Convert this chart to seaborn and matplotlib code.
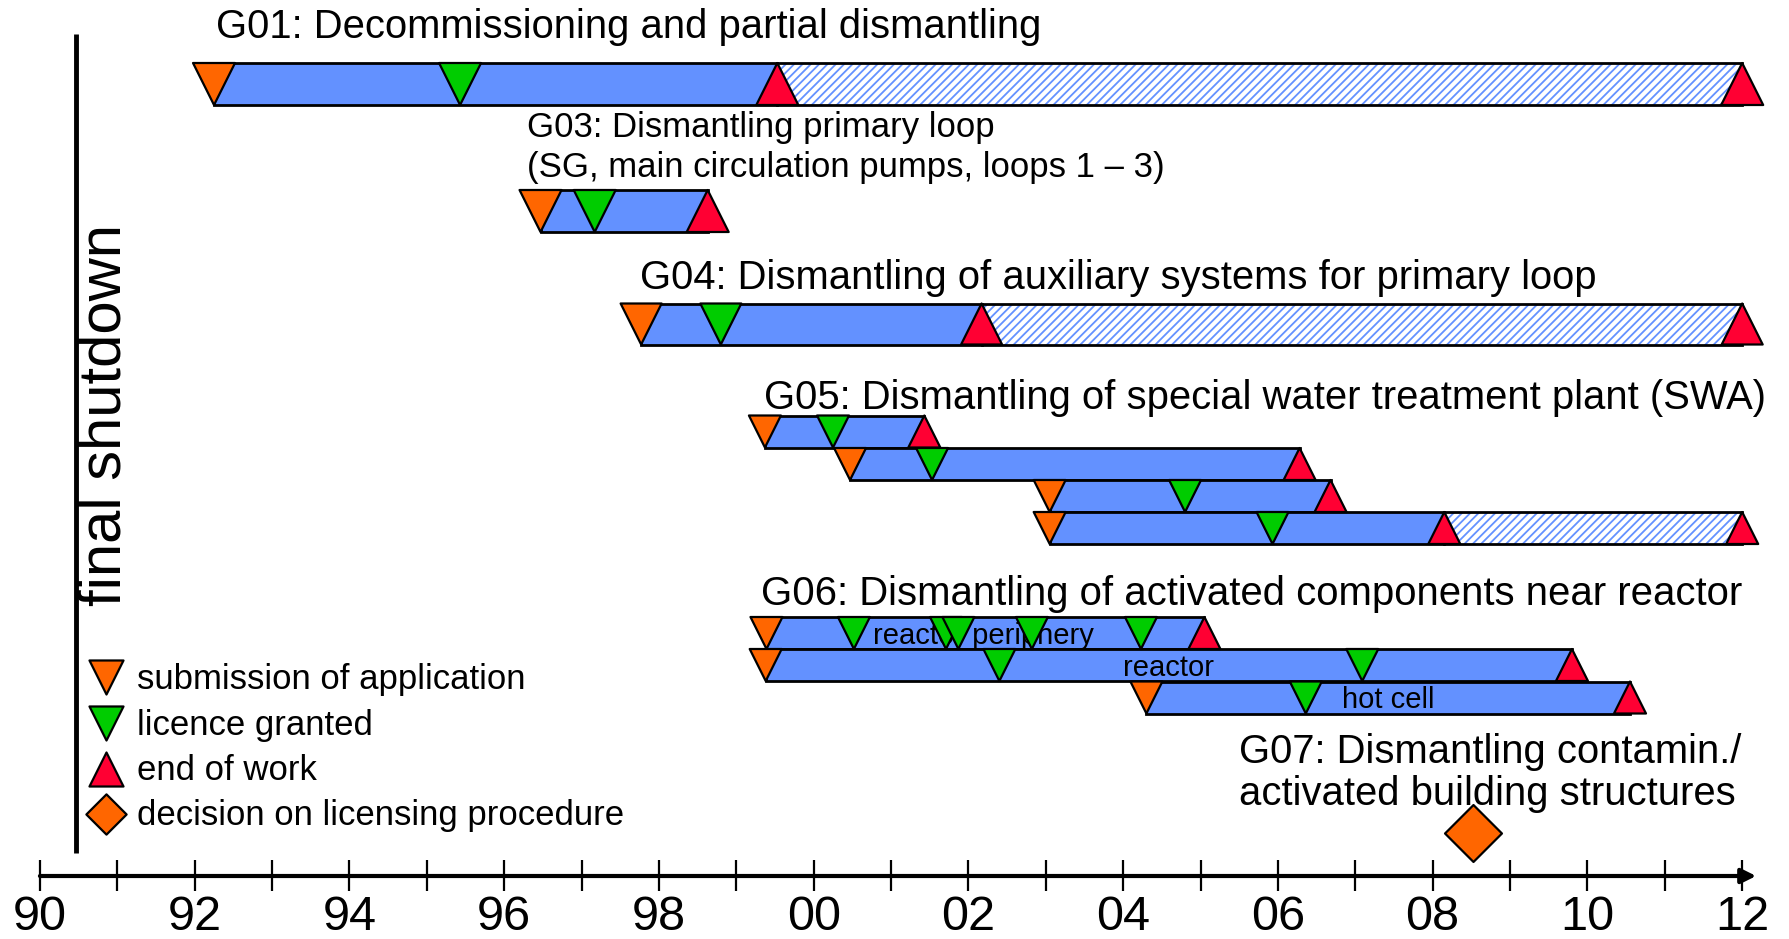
import numpy as np
import pandas as pd
import matplotlib.pyplot as plt
import seaborn as sns

# ---------- data (calendar years) ----------
row_names = ["G01", "G03", "G04", "G05a", "G05b", "G05c", "G05d", "G06a", "G06b", "G06c"]
submission = [1992.25, 1996.47, 1997.77, 1999.37, 2000.47, 2003.05, 2003.05, 1999.39, 1999.38, 2004.30]
licence = [[1995.43], [1997.17], [1998.80], [2000.25], [2001.53], [2004.80], [2005.93],
           [2000.52, 2001.71, 2001.87, 2002.82, 2004.23], [2002.40, 2007.09], [2006.36]]
end_of_work = [1999.53, 1998.63, 2002.17, 2001.43, 2006.28, 2006.68, 2008.15, 2005.05, 2009.80, 2010.55]
planned_end = [2012, None, 2012, None, None, None, 2012, None, None, None]
bar_labels = ["", "", "", "", "", "", "", "reactor periphery", "reactor", "hot cell"]
bar_label_x = [None] * 7 + [2002.19, 2004.59, 2007.42]
decision_year = 2008.52
final_shutdown = 1990.46
years = list(range(1990, 2013))

title_lines = ["G01: Decommissioning and partial dismantling",
               "G03: Dismantling primary loop",
               "(SG, main circulation pumps, loops 1 \u2013 3)",
               "G04: Dismantling of auxiliary systems for primary loop",
               "G05: Dismantling of special water treatment plant (SWA)",
               "G06: Dismantling of activated components near reactor",
               "G07: Dismantling contamin./",
               "activated building structures"]
legend_labels = ["submission of application", "licence granted", "end of work",
                 "decision on licensing procedure"]

# ---------- layout (pixels from top) ----------
row_y = [84, 211, 324, 431.5, 464, 496, 528, 633, 665, 697.5]
row_h = [42, 42, 41, 32, 32, 32, 32, 32, 32, 32]
title_x = [1992.28, 1996.30, 1996.30, 1997.75, 1999.36, 1999.32, 2005.50, 2005.50]
title_y = [27, 127, 168, 278, 398, 594, 752, 794]
title_fs = [28.8, 25, 25, 28.8, 28.8, 28.9, 28.8, 28.8]

BLUE = "#6391FF"
ORANGE = "#FF6600"
GREEN = "#00CC00"
RED = "#FF0033"

sns.set_theme(style="white")
plt.rcParams["font.family"] = ["Liberation Sans", "DejaVu Sans"]
plt.rcParams["text.color"] = "black"
plt.rcParams["hatch.linewidth"] = 1.3

fig = plt.figure(figsize=(17.89, 9.39), dpi=100)
ax = fig.add_axes([0, 0, 1, 1])

# ---------- bars ----------
for i in range(len(row_names)):
    y, h = row_y[i], row_h[i]
    ax.barh(y, end_of_work[i] - submission[i], left=submission[i], height=h,
            color=BLUE, edgecolor="black", linewidth=2, zorder=2)
    if planned_end[i] is not None:
        ax.barh(y, planned_end[i] - end_of_work[i], left=end_of_work[i], height=h,
                color="white", edgecolor=BLUE, hatch="////", linewidth=0, zorder=2)
        ax.barh(y, planned_end[i] - end_of_work[i], left=end_of_work[i], height=h,
                fill=False, edgecolor="black", linewidth=2, zorder=2)
    if bar_labels[i]:
        ax.text(bar_label_x[i], y + 3, bar_labels[i], ha="center", va="center",
                fontsize=21, zorder=3)

# ---------- milestones ----------
recs = []
for i in range(len(row_names)):
    s = (row_h[i] * 0.72) ** 2
    recs.append(dict(year=submission[i], y=row_y[i], kind="sub", s=s))
    for lic in licence[i]:
        recs.append(dict(year=lic, y=row_y[i], kind="lic", s=s))
    recs.append(dict(year=end_of_work[i], y=row_y[i], kind="end", s=s))
    if planned_end[i] is not None:
        recs.append(dict(year=planned_end[i], y=row_y[i], kind="end", s=s))
ms = pd.DataFrame(recs)

specs = {"sub": ("v", ORANGE), "lic": ("v", GREEN), "end": ("^", RED)}
for kind, (mk, col) in specs.items():
    sub = ms[ms["kind"] == kind]
    sns.scatterplot(data=sub, x="year", y="y", marker=mk, color=col, s=sub["s"].values,
                    edgecolor="black", linewidth=1.6, zorder=4, legend=False, ax=ax)

# decision diamond
sns.scatterplot(x=[decision_year], y=[833], marker="D", color=ORANGE, s=29 ** 2,
                edgecolor="black", linewidth=1.6, zorder=4, legend=False, ax=ax)

# ---------- titles ----------
for txt, tx, ty, fs in zip(title_lines, title_x, title_y, title_fs):
    ax.text(tx, ty, txt, ha="left", va="center", fontsize=fs, zorder=5)

# ---------- final shutdown ----------
ax.plot([final_shutdown, final_shutdown], [34, 853], color="black", lw=3.5,
        solid_capstyle="butt", zorder=3)
ax.text(final_shutdown + 0.38, 415, "final shutdown", rotation=90, ha="center",
        va="center", fontsize=43)

# ---------- legend ----------
leg_y = [677, 723, 769, 814]
leg_marks = [("v", ORANGE, 600), ("v", GREEN, 600), ("^", RED, 600), ("D", ORANGE, 420)]
for ly, (mk, col, s), lab in zip(leg_y, leg_marks, legend_labels):
    ax.scatter([1990.86], [ly], marker=mk, color=col, s=s, edgecolor="black",
               linewidth=1.6, zorder=4)
    ax.text(1991.25, ly + 2, lab, ha="left", va="center", fontsize=25)

# ---------- time axis ----------
ax.annotate("", xy=(2012.18, 876), xytext=(1990, 876),
            arrowprops=dict(arrowstyle="-|>", lw=3, color="black", mutation_scale=22,
                            shrinkA=0, shrinkB=0))
ax.vlines(years, 860, 891, color="black", lw=1.6)
for yr in years[::2]:
    ax.text(yr, 918, f"{yr % 100:02d}", ha="center", va="center", fontsize=35)

ax.set_xlim(1989.484, 2012.605)
ax.set_ylim(939, 0)
ax.axis("off")

fig.savefig("out.png", dpi=100)
